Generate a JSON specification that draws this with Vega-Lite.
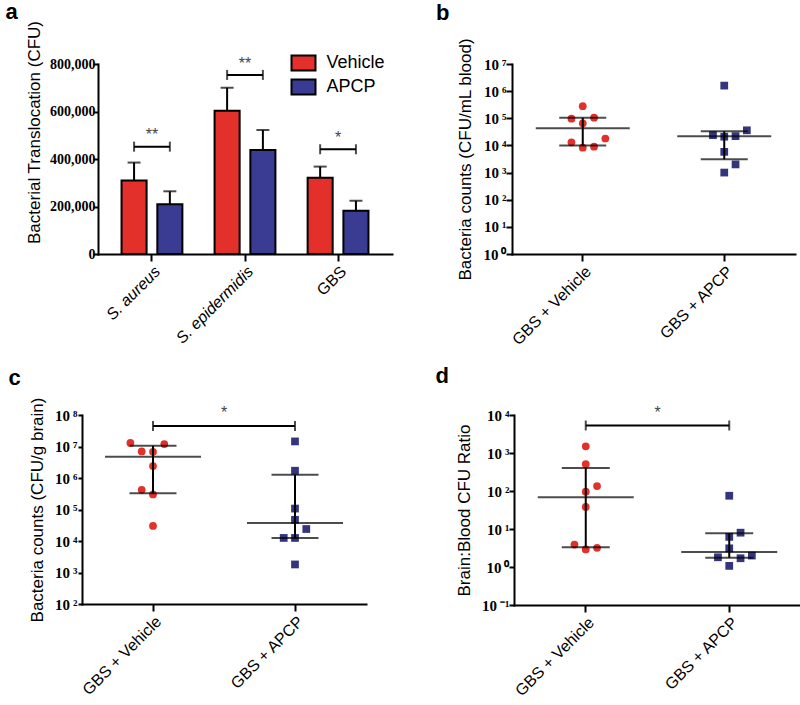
{
  "$schema": "https://vega.github.io/schema/vega-lite/v6.json",
  "padding": {"left": -68, "top": 1, "right": 0, "bottom": 0},
  "background": "white",
  "datasets": {
    "spacer": [{"k": 1}],
    "a_bars": [
      {"species": "S. aureus", "group": "Vehicle", "mean": 310000, "upper": 385000},
      {"species": "S. aureus", "group": "APCP", "mean": 210000, "upper": 264000},
      {"species": "S. epidermidis", "group": "Vehicle", "mean": 603000, "upper": 700000},
      {"species": "S. epidermidis", "group": "APCP", "mean": 438000, "upper": 522000},
      {"species": "GBS", "group": "Vehicle", "mean": 321000, "upper": 368000},
      {"species": "GBS", "group": "APCP", "mean": 182000, "upper": 224000}
    ],
    "a_brackets": [
      {"species": "S. aureus", "group": "Vehicle", "value": 452000},
      {"species": "S. aureus", "group": "APCP", "value": 452000},
      {"species": "S. epidermidis", "group": "Vehicle", "value": 754000},
      {"species": "S. epidermidis", "group": "APCP", "value": 754000},
      {"species": "GBS", "group": "Vehicle", "value": 441000},
      {"species": "GBS", "group": "APCP", "value": 441000}
    ],
    "a_stars": [
      {"species": "S. aureus", "label": "**", "value": 500000},
      {"species": "S. epidermidis", "label": "**", "value": 800000},
      {"species": "GBS", "label": "*", "value": 490000}
    ],
    "b_points": [
      {"group": "GBS + Vehicle", "slot": 0, "value": 280000},
      {"group": "GBS + Vehicle", "slot": -1, "value": 97000},
      {"group": "GBS + Vehicle", "slot": 1, "value": 105000},
      {"group": "GBS + Vehicle", "slot": 0, "value": 65000},
      {"group": "GBS + Vehicle", "slot": 2, "value": 18000},
      {"group": "GBS + Vehicle", "slot": -1, "value": 13000},
      {"group": "GBS + Vehicle", "slot": 0, "value": 8300},
      {"group": "GBS + Vehicle", "slot": 1, "value": 9000},
      {"group": "GBS + APCP", "slot": 0, "value": 1600000},
      {"group": "GBS + APCP", "slot": 2, "value": 36000},
      {"group": "GBS + APCP", "slot": -1, "value": 24000},
      {"group": "GBS + APCP", "slot": 0, "value": 21000},
      {"group": "GBS + APCP", "slot": 1, "value": 22000},
      {"group": "GBS + APCP", "slot": 0, "value": 5800},
      {"group": "GBS + APCP", "slot": 1, "value": 2000},
      {"group": "GBS + APCP", "slot": 0, "value": 1000}
    ],
    "b_stats": [
      {"group": "GBS + Vehicle", "median": 43000, "q1": 10000, "q3": 105000},
      {"group": "GBS + APCP", "median": 22000, "q1": 3100, "q3": 33000}
    ],
    "c_points": [
      {"group": "GBS + Vehicle", "slot": -2, "value": 13000000},
      {"group": "GBS + Vehicle", "slot": 1, "value": 12000000},
      {"group": "GBS + Vehicle", "slot": -1, "value": 7000000},
      {"group": "GBS + Vehicle", "slot": 0, "value": 6800000},
      {"group": "GBS + Vehicle", "slot": 0, "value": 2400000},
      {"group": "GBS + Vehicle", "slot": -1, "value": 420000},
      {"group": "GBS + Vehicle", "slot": 0, "value": 300000},
      {"group": "GBS + Vehicle", "slot": 0, "value": 30000},
      {"group": "GBS + APCP", "slot": 0, "value": 14500000},
      {"group": "GBS + APCP", "slot": 0, "value": 1700000},
      {"group": "GBS + APCP", "slot": 0, "value": 107000},
      {"group": "GBS + APCP", "slot": 0, "value": 47000},
      {"group": "GBS + APCP", "slot": 1, "value": 24000},
      {"group": "GBS + APCP", "slot": -1, "value": 12500},
      {"group": "GBS + APCP", "slot": 0, "value": 12500},
      {"group": "GBS + APCP", "slot": 0, "value": 1800}
    ],
    "c_stats": [
      {"group": "GBS + Vehicle", "median": 4700000, "q1": 330000, "q3": 10500000},
      {"group": "GBS + APCP", "median": 37000, "q1": 12500, "q3": 1260000}
    ],
    "c_bracket": [
      {"group": "GBS + Vehicle", "value": 45000000},
      {"group": "GBS + APCP", "value": 45000000}
    ],
    "c_star": [
      {"group": "GBS + APCP", "label": "*", "value": 120000000}
    ],
    "d_points": [
      {"group": "GBS + Vehicle", "slot": 0, "value": 1500},
      {"group": "GBS + Vehicle", "slot": 0, "value": 510},
      {"group": "GBS + Vehicle", "slot": 1, "value": 135},
      {"group": "GBS + Vehicle", "slot": 0, "value": 96},
      {"group": "GBS + Vehicle", "slot": 0, "value": 38},
      {"group": "GBS + Vehicle", "slot": -1, "value": 3.9},
      {"group": "GBS + Vehicle", "slot": 0, "value": 2.9},
      {"group": "GBS + Vehicle", "slot": 1, "value": 3.2},
      {"group": "GBS + APCP", "slot": 0, "value": 75},
      {"group": "GBS + APCP", "slot": 1, "value": 8},
      {"group": "GBS + APCP", "slot": 0, "value": 6.2},
      {"group": "GBS + APCP", "slot": 0, "value": 3.1},
      {"group": "GBS + APCP", "slot": -1, "value": 1.8},
      {"group": "GBS + APCP", "slot": 1, "value": 1.7},
      {"group": "GBS + APCP", "slot": 2, "value": 2.0},
      {"group": "GBS + APCP", "slot": 0, "value": 1.07}
    ],
    "d_stats": [
      {"group": "GBS + Vehicle", "median": 68, "q1": 3.3, "q3": 400},
      {"group": "GBS + APCP", "median": 2.5, "q1": 1.76, "q3": 7.7}
    ],
    "d_bracket": [
      {"group": "GBS + Vehicle", "value": 5300},
      {"group": "GBS + APCP", "value": 5300}
    ],
    "d_star": [
      {"group": "GBS + APCP", "label": "*", "value": 11000}
    ]
  },
  "spacing": 17,
  "resolve": {"scale": {"color": "independent", "shape": "independent", "x": "independent", "y": "independent", "xOffset": "independent"}},
  "vconcat": [
    {
      "spacing": 43,
      "resolve": {"scale": {"color": "independent", "shape": "independent", "x": "independent", "y": "independent", "xOffset": "independent"}},
      "hconcat": [
        {
          "width": 27,
          "height": 1,
          "data": {"name": "spacer"},
          "mark": {"type": "point", "opacity": 0},
          "encoding": {}
        },
        {
          "width": 294,
          "height": 190,
          "title": {"text": "a", "dx": -20, "offset": -4},
          "encoding": {
            "x": {
              "field": "species", "type": "nominal",
              "sort": ["S. aureus", "S. epidermidis", "GBS"],
              "scale": {"type": "band", "domain": ["S. aureus", "S. epidermidis", "GBS"], "paddingInner": 0, "paddingOuter": 0.08},
              "axis": {
                "title": null, "labelAngle": -45, "labelFont": "Liberation Sans", "labelFontSize": 16,
                "labelFontWeight": "normal", "tickSize": 7, "labelPadding": 2,
                "labelFontStyle": {"condition": {"test": "datum.value === 'GBS'", "value": "normal"}, "value": "italic"}
              }
            }
          },
          "layer": [
            {
              "data": {"name": "a_bars"},
              "mark": {"type": "rule", "color": "black", "strokeWidth": 2},
              "encoding": {
                "xOffset": {"field": "group", "type": "nominal", "scale": {"domain": ["Vehicle", "APCP"], "paddingInner": 0.3, "paddingOuter": 0.45}},
                "y": {
                  "field": "mean", "type": "quantitative", "title": "Bacterial Translocation (CFU)",
                  "scale": {"domain": [0, 800000], "nice": false, "zero": true},
                  "axis": {
                    "values": [0, 200000, 400000, 600000, 800000],
                    "labelExpr": "format(datum.value, ',')",
                    "labelFont": "Liberation Serif", "labelFontWeight": "bold", "labelFontSize": 14,
                    "tickSize": 5, "labelPadding": -2, "titlePadding": 6, "titleY": 68
                  }
                },
                "y2": {"field": "upper"}
              }
            },
            {
              "data": {"name": "a_bars"},
              "mark": {"type": "tick", "orient": "horizontal", "size": 13, "thickness": 2, "color": "black"},
              "encoding": {
                "xOffset": {"field": "group", "type": "nominal", "scale": {"domain": ["Vehicle", "APCP"], "paddingInner": 0.3, "paddingOuter": 0.45}},
                "y": {"field": "upper", "type": "quantitative", "title": "Bacterial Translocation (CFU)"}
              }
            },
            {
              "data": {"name": "a_bars"},
              "mark": {"type": "bar", "stroke": "black", "strokeWidth": 2, "opacity": 1},
              "encoding": {
                "xOffset": {"field": "group", "type": "nominal", "scale": {"domain": ["Vehicle", "APCP"], "paddingInner": 0.3, "paddingOuter": 0.45}},
                "y": {"field": "mean", "type": "quantitative", "title": "Bacterial Translocation (CFU)"},
                "color": {
                  "field": "group", "type": "nominal",
                  "scale": {"domain": ["Vehicle", "APCP"], "range": ["#e3302a", "#3a3b92"]},
                  "legend": {
                    "orient": "none", "legendX": 196.5, "legendY": -10, "title": null,
                    "labelFont": "Liberation Sans", "labelFontSize": 18, "labelColor": "black",
                    "symbolType": "M-1.6,-1H1.6V1H-1.6Z", "symbolSize": 225,
                    "symbolStrokeColor": "black", "symbolStrokeWidth": 2, "symbolOpacity": 1,
                    "rowPadding": 0, "labelOffset": 14
                  }
                }
              }
            },
            {
              "data": {"name": "a_brackets"},
              "mark": {"type": "line", "color": "black", "strokeWidth": 2},
              "encoding": {
                "xOffset": {"field": "group", "type": "nominal", "scale": {"domain": ["Vehicle", "APCP"], "paddingInner": 0.3, "paddingOuter": 0.45}},
                "y": {"field": "value", "type": "quantitative", "title": "Bacterial Translocation (CFU)"},
                "detail": {"field": "species"}
              }
            },
            {
              "data": {"name": "a_brackets"},
              "mark": {"type": "tick", "orient": "vertical", "size": 10, "thickness": 2, "color": "black"},
              "encoding": {
                "xOffset": {"field": "group", "type": "nominal", "scale": {"domain": ["Vehicle", "APCP"], "paddingInner": 0.3, "paddingOuter": 0.45}},
                "y": {"field": "value", "type": "quantitative", "title": "Bacterial Translocation (CFU)"}
              }
            },
            {
              "data": {"name": "a_stars"},
              "mark": {"type": "text", "font": "Liberation Sans", "fontSize": 16, "color": "#444", "baseline": "middle"},
              "encoding": {
                "y": {"field": "value", "type": "quantitative", "title": "Bacterial Translocation (CFU)"},
                "text": {"field": "label"}
              }
            }
          ]
        },
        {
          "width": 283,
          "height": 190,
          "title": {"text": "b", "dx": -21, "offset": 13},
          "encoding": {
            "x": {
              "field": "group", "type": "nominal",
              "scale": {"type": "band", "domain": ["GBS + Vehicle", "GBS + APCP"], "paddingInner": 0, "paddingOuter": 0},
              "axis": {"title": null, "labelAngle": -45, "labelFont": "Liberation Sans", "labelFontSize": 16, "labelFontWeight": "normal", "tickSize": 7, "labelPadding": 2}
            }
          },
          "layer": [
            {
              "data": {"name": "b_points"},
              "mark": {"type": "point", "filled": true, "opacity": 1, "size": 60},
              "encoding": {
                "xOffset": {"field": "slot", "type": "quantitative", "scale": {"domain": [-2, 2], "range": [48.15, 93.35]}},
                "y": {
                  "field": "value", "type": "quantitative", "title": "Bacteria counts (CFU/mL blood)",
                  "scale": {"type": "log", "domain": [1, 10000000], "nice": false},
                  "axis": {
                    "values": [1, 10, 100, 1000, 10000, 100000, 1000000, 10000000],
                    "labelExpr": "'10\u2009' + ['⁰','¹','²','³','⁴','⁵','⁶','⁷','⁸'][round(log(datum.value)/LN10)]",
                    "labelFont": "Liberation Serif", "labelFontWeight": "bold", "labelFontSize": 15,
                    "tickSize": 6, "labelPadding": 0, "titlePadding": 8
                  }
                },
                "shape": {"field": "group", "type": "nominal", "scale": {"domain": ["GBS + Vehicle", "GBS + APCP"], "range": ["circle", "square"]}, "legend": null},
                "color": {"field": "group", "type": "nominal", "scale": {"domain": ["GBS + Vehicle", "GBS + APCP"], "range": ["#e2302a", "#34357c"]}, "legend": null}
              }
            },
            {
              "data": {"name": "b_stats"},
              "mark": {"type": "rule", "color": "black", "strokeWidth": 2},
              "encoding": {
                "y": {"field": "q1", "type": "quantitative", "title": "Bacteria counts (CFU/mL blood)"},
                "y2": {"field": "q3"}
              }
            },
            {
              "data": {"name": "b_stats"},
              "mark": {"type": "tick", "orient": "horizontal", "size": 94, "thickness": 2, "color": "black"},
              "encoding": {"y": {"field": "median", "type": "quantitative", "title": "Bacteria counts (CFU/mL blood)"}}
            },
            {
              "data": {"name": "b_stats"},
              "mark": {"type": "tick", "orient": "horizontal", "size": 47, "thickness": 2, "color": "black"},
              "encoding": {"y": {"field": "q1", "type": "quantitative", "title": "Bacteria counts (CFU/mL blood)"}}
            },
            {
              "data": {"name": "b_stats"},
              "mark": {"type": "tick", "orient": "horizontal", "size": 47, "thickness": 2, "color": "black"},
              "encoding": {"y": {"field": "q3", "type": "quantitative", "title": "Bacteria counts (CFU/mL blood)"}}
            }
          ]
        }
      ]
    },
    {
      "spacing": 69,
      "resolve": {"scale": {"color": "independent", "shape": "independent", "x": "independent", "y": "independent", "xOffset": "independent"}},
      "hconcat": [
        {
          "width": 1,
          "height": 1,
          "data": {"name": "spacer"},
          "mark": {"type": "point", "opacity": 0},
          "encoding": {}
        },
        {
          "width": 284,
          "height": 189,
          "title": {"text": "c", "dx": -20, "offset": 7},
          "encoding": {
            "x": {
              "field": "group", "type": "nominal",
              "scale": {"type": "band", "domain": ["GBS + Vehicle", "GBS + APCP"], "paddingInner": 0, "paddingOuter": 0},
              "axis": {"title": null, "labelAngle": -45, "labelFont": "Liberation Sans", "labelFontSize": 16, "labelFontWeight": "normal", "tickSize": 7, "labelPadding": 2}
            }
          },
          "layer": [
            {
              "data": {"name": "c_points"},
              "mark": {"type": "point", "filled": true, "opacity": 1, "size": 60},
              "encoding": {
                "xOffset": {"field": "slot", "type": "quantitative", "scale": {"domain": [-2, 2], "range": [48.4, 93.6]}},
                "y": {
                  "field": "value", "type": "quantitative", "title": "Bacteria counts (CFU/g brain)",
                  "scale": {"type": "log", "domain": [100, 100000000], "nice": false},
                  "axis": {
                    "values": [100, 1000, 10000, 100000, 1000000, 10000000, 100000000],
                    "labelExpr": "'10\u2009' + ['⁰','¹','²','³','⁴','⁵','⁶','⁷','⁸'][round(log(datum.value)/LN10)]",
                    "labelFont": "Liberation Serif", "labelFontWeight": "bold", "labelFontSize": 15,
                    "tickSize": 4, "labelPadding": 1, "titlePadding": 8
                  }
                },
                "shape": {"field": "group", "type": "nominal", "scale": {"domain": ["GBS + Vehicle", "GBS + APCP"], "range": ["circle", "square"]}, "legend": null},
                "color": {"field": "group", "type": "nominal", "scale": {"domain": ["GBS + Vehicle", "GBS + APCP"], "range": ["#e2302a", "#34357c"]}, "legend": null}
              }
            },
            {
              "data": {"name": "c_stats"},
              "mark": {"type": "rule", "color": "black", "strokeWidth": 2},
              "encoding": {
                "y": {"field": "q1", "type": "quantitative", "title": "Bacteria counts (CFU/g brain)"},
                "y2": {"field": "q3"}
              }
            },
            {
              "data": {"name": "c_stats"},
              "mark": {"type": "tick", "orient": "horizontal", "size": 96, "thickness": 2, "color": "black"},
              "encoding": {"y": {"field": "median", "type": "quantitative", "title": "Bacteria counts (CFU/g brain)"}}
            },
            {
              "data": {"name": "c_stats"},
              "mark": {"type": "tick", "orient": "horizontal", "size": 47, "thickness": 2, "color": "black"},
              "encoding": {"y": {"field": "q1", "type": "quantitative", "title": "Bacteria counts (CFU/g brain)"}}
            },
            {
              "data": {"name": "c_stats"},
              "mark": {"type": "tick", "orient": "horizontal", "size": 47, "thickness": 2, "color": "black"},
              "encoding": {"y": {"field": "q3", "type": "quantitative", "title": "Bacteria counts (CFU/g brain)"}}
            },
            {
              "data": {"name": "c_bracket"},
              "mark": {"type": "line", "color": "black", "strokeWidth": 2},
              "encoding": {"y": {"field": "value", "type": "quantitative", "title": "Bacteria counts (CFU/g brain)"}}
            },
            {
              "data": {"name": "c_bracket"},
              "mark": {"type": "tick", "orient": "vertical", "size": 10, "thickness": 2, "color": "black"},
              "encoding": {"y": {"field": "value", "type": "quantitative", "title": "Bacteria counts (CFU/g brain)"}}
            },
            {
              "data": {"name": "c_star"},
              "mark": {"type": "text", "font": "Liberation Sans", "fontSize": 16, "color": "#444", "baseline": "middle"},
              "encoding": {
                "x": {"field": "group", "type": "nominal", "bandPosition": 0},
                "y": {"field": "value", "type": "quantitative", "title": "Bacteria counts (CFU/g brain)"},
                "text": {"field": "label"}
              }
            }
          ]
        },
        {
          "width": 287,
          "height": 190,
          "title": {"text": "d", "dx": -20, "offset": 17},
          "encoding": {
            "x": {
              "field": "group", "type": "nominal",
              "scale": {"type": "band", "domain": ["GBS + Vehicle", "GBS + APCP"], "paddingInner": 0, "paddingOuter": 0},
              "axis": {"title": null, "labelAngle": -45, "labelFont": "Liberation Sans", "labelFontSize": 16, "labelFontWeight": "normal", "tickSize": 7, "labelPadding": 2}
            }
          },
          "layer": [
            {
              "data": {"name": "d_points"},
              "mark": {"type": "point", "filled": true, "opacity": 1, "size": 60},
              "encoding": {
                "xOffset": {"field": "slot", "type": "quantitative", "scale": {"domain": [-2, 2], "range": [49.15, 94.35]}},
                "y": {
                  "field": "value", "type": "quantitative", "title": "Brain:Blood CFU Ratio",
                  "scale": {"type": "log", "domain": [0.1, 10000], "nice": false},
                  "axis": {
                    "values": [0.1, 1, 10, 100, 1000, 10000],
                    "labelExpr": "datum.value < 0.5 ? '10\u2009⁻¹' : '10\u2009' + ['⁰','¹','²','³','⁴','⁵','⁶','⁷','⁸'][round(log(datum.value)/LN10)]",
                    "labelFont": "Liberation Serif", "labelFontWeight": "bold", "labelFontSize": 15,
                    "tickSize": 5, "labelPadding": 0, "titlePadding": 8
                  }
                },
                "shape": {"field": "group", "type": "nominal", "scale": {"domain": ["GBS + Vehicle", "GBS + APCP"], "range": ["circle", "square"]}, "legend": null},
                "color": {"field": "group", "type": "nominal", "scale": {"domain": ["GBS + Vehicle", "GBS + APCP"], "range": ["#e2302a", "#34357c"]}, "legend": null}
              }
            },
            {
              "data": {"name": "d_stats"},
              "mark": {"type": "rule", "color": "black", "strokeWidth": 2},
              "encoding": {
                "y": {"field": "q1", "type": "quantitative", "title": "Brain:Blood CFU Ratio"},
                "y2": {"field": "q3"}
              }
            },
            {
              "data": {"name": "d_stats"},
              "mark": {"type": "tick", "orient": "horizontal", "size": 96, "thickness": 2, "color": "black"},
              "encoding": {"y": {"field": "median", "type": "quantitative", "title": "Brain:Blood CFU Ratio"}}
            },
            {
              "data": {"name": "d_stats"},
              "mark": {"type": "tick", "orient": "horizontal", "size": 48, "thickness": 2, "color": "black"},
              "encoding": {"y": {"field": "q1", "type": "quantitative", "title": "Brain:Blood CFU Ratio"}}
            },
            {
              "data": {"name": "d_stats"},
              "mark": {"type": "tick", "orient": "horizontal", "size": 48, "thickness": 2, "color": "black"},
              "encoding": {"y": {"field": "q3", "type": "quantitative", "title": "Brain:Blood CFU Ratio"}}
            },
            {
              "data": {"name": "d_bracket"},
              "mark": {"type": "line", "color": "black", "strokeWidth": 2},
              "encoding": {"y": {"field": "value", "type": "quantitative", "title": "Brain:Blood CFU Ratio"}}
            },
            {
              "data": {"name": "d_bracket"},
              "mark": {"type": "tick", "orient": "vertical", "size": 10, "thickness": 2, "color": "black"},
              "encoding": {"y": {"field": "value", "type": "quantitative", "title": "Brain:Blood CFU Ratio"}}
            },
            {
              "data": {"name": "d_star"},
              "mark": {"type": "text", "font": "Liberation Sans", "fontSize": 16, "color": "#444", "baseline": "middle"},
              "encoding": {
                "x": {"field": "group", "type": "nominal", "bandPosition": 0},
                "y": {"field": "value", "type": "quantitative", "title": "Brain:Blood CFU Ratio"},
                "text": {"field": "label"}
              }
            }
          ]
        }
      ]
    }
  ],
  "config": {
    "view": {"stroke": null},
    "title": {"anchor": "start", "frame": "bounds", "font": "Liberation Sans", "fontSize": 22, "fontWeight": "bold", "color": "black"},
    "axis": {
      "grid": false, "domainColor": "black", "domainWidth": 2, "tickColor": "black", "tickWidth": 2,
      "labelColor": "black", "titleColor": "black", "titleFont": "Liberation Sans", "titleFontSize": 17,
      "titleFontWeight": "normal", "domainCap": "square"
    }
  }
}
